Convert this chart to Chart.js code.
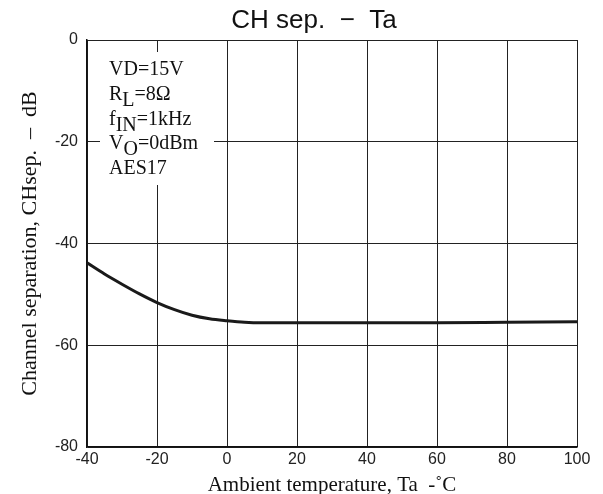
<!DOCTYPE html>
<html>
<head>
<meta charset="utf-8">
<script src="https://cdn.jsdelivr.net/npm/chart.js@4/dist/chart.umd.min.js"></script>
<style>
  html, body { margin: 0; padding: 0; background: #fff; }
  #wrap { width: 603px; height: 494px; }
</style>
</head>
<body>
<div id="wrap"><canvas id="chSepChart" width="603" height="494"></canvas></div>
<script>
// data dibaca dari grafik referensi
const tempValues = [-40, -35, -30, -25, -20, -15, -10, -5, 0, 5, 10, 20, 40, 60, 80, 100];
const chSepValues = [-43.8, -46.0, -48.0, -49.9, -51.6, -53.0, -54.1, -54.8, -55.2, -55.5, -55.6, -55.6, -55.6, -55.6, -55.5, -55.4];
const xTicks = [-40, -20, 0, 20, 40, 60, 80, 100];
const yTicks = [0, -20, -40, -60, -80];
const noteLines = [
    { main: 'VD=15V', sub: '', rest: '' },
    { main: 'R', sub: 'L', rest: '=8Ω' },
    { main: 'f', sub: 'IN', rest: '=1kHz' },
    { main: 'V', sub: 'O', rest: '=0dBm' },
    { main: 'AES17', sub: '', rest: '' }
];

const sansFont = "'Liberation Sans', Arial, sans-serif";
const serifFont = "'Liberation Serif', 'Times New Roman', serif";

// plugin untuk judul dan kotak keterangan
const notePlugin = {
    id: 'notePlugin',
    beforeDatasetsDraw(chart) {
        const ctx = chart.ctx;
        const area = chart.chartArea;
        ctx.save();
        ctx.fillStyle = '#fff';
        ctx.fillRect(area.left + 13, area.top + 12, 114, 133);
        ctx.fillStyle = '#111';
        ctx.textBaseline = 'alphabetic';
        ctx.textAlign = 'left';
        let y = area.top + 35;
        noteLines.forEach(line => {
            let x = area.left + 22;
            ctx.font = '20px ' + serifFont;
            ctx.fillText(line.main, x, y);
            x += ctx.measureText(line.main).width;
            if (line.sub) {
                ctx.fillText(line.sub, x, y + 6);
                x += ctx.measureText(line.sub).width;
            }
            if (line.rest) ctx.fillText(line.rest, x, y);
            y += 24.8;
        });
        ctx.restore();
    },
    afterDraw(chart) {
        const ctx = chart.ctx;
        ctx.save();
        ctx.fillStyle = '#111';
        ctx.font = '26px ' + sansFont;
        ctx.textAlign = 'center';
        ctx.textBaseline = 'middle';
        ctx.fillText('CH sep.  −  Ta', 314, 21);
        ctx.restore();
    }
};

const ctx = document.getElementById('chSepChart').getContext('2d');
new Chart(ctx, {
    type: 'line',
    data: {
        datasets: [{
            data: tempValues.map((t, i) => ({ x: t, y: chSepValues[i] })),
            borderColor: '#1a1a1a',
            borderWidth: 3,
            pointRadius: 0,
            cubicInterpolationMode: 'monotone',
            fill: false
        }]
    },
    options: {
        responsive: false,
        animation: false,
        layout: { padding: { top: 40, right: 26, left: 0, bottom: 0 } },
        plugins: {
            legend: { display: false },
            tooltip: { enabled: false }
        },
        scales: {
            x: {
                type: 'linear',
                min: -40,
                max: 100,
                afterBuildTicks: scale => { scale.ticks = xTicks.map(v => ({ value: v })); },
                afterFit: scale => { scale.height = 47; },
                grid: { color: '#222', lineWidth: 1, drawTicks: false },
                border: { color: '#111', width: 1.5 },
                ticks: {
                    color: '#222',
                    padding: 3,
                    font: { family: sansFont, size: 16 }
                },
                title: {
                    display: true,
                    text: 'Ambient temperature, Ta  -˚C',
                    color: '#111',
                    font: { family: serifFont, size: 21 },
                    padding: { top: 0, bottom: -4 }
                }
            },
            y: {
                type: 'linear',
                min: -80,
                max: 0,
                afterBuildTicks: scale => { scale.ticks = yTicks.map(v => ({ value: v })); },
                afterFit: scale => { scale.width = 87; },
                grid: { color: '#222', lineWidth: 1, drawTicks: false },
                border: { color: '#111', width: 1.5 },
                ticks: {
                    color: '#222',
                    padding: 9,
                    font: { family: sansFont, size: 16 }
                },
                title: {
                    display: true,
                    text: 'Channel separation, CHsep.  –  dB',
                    color: '#111',
                    font: { family: serifFont, size: 22 },
                    padding: { top: 17, bottom: 0 }
                }
            }
        }
    },
    plugins: [notePlugin]
});
</script>
</body>
</html>
